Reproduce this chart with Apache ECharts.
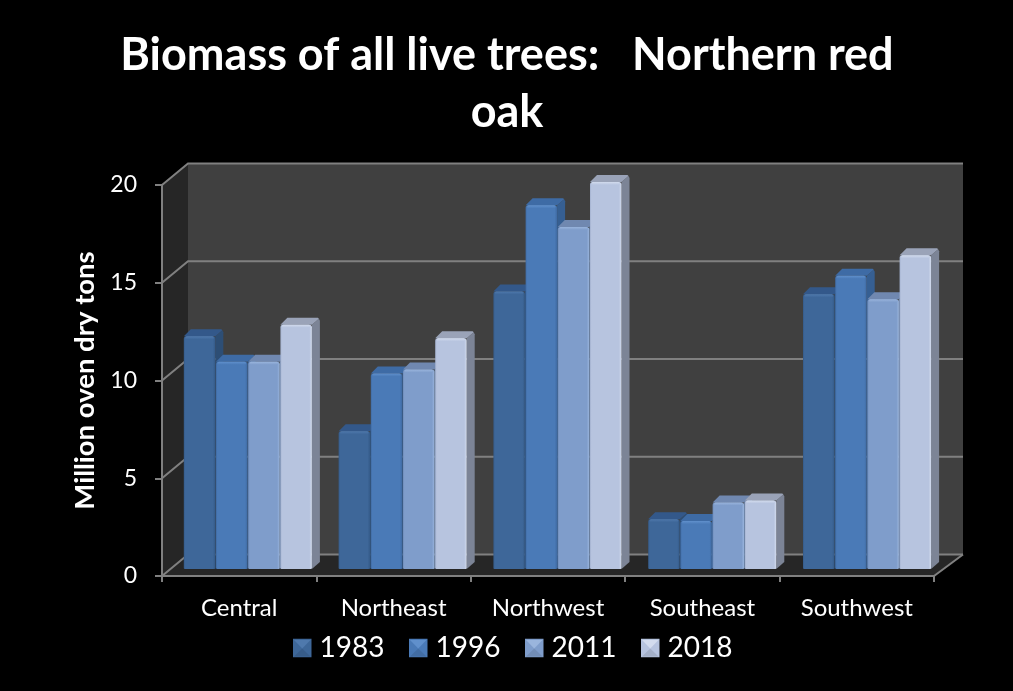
<!DOCTYPE html>
<html><head><meta charset="utf-8">
<style>html,body{margin:0;padding:0;background:#000}#c{width:1013px;height:691px}</style>
<script src="https://cdn.jsdelivr.net/npm/echarts@6/dist/echarts.min.js"></script>
</head><body><div id="c"></div>
<script>
const titleText = "Biomass of all live trees:   Northern red\noak";
const yAxisName = "Million oven dry tons";
const categories = ["Central","Northeast","Northwest","Southeast","Southwest"];
const seriesNames = ["1983","1996","2011","2018"];
const v1983 = [11.9, 7.05, 14.2, 2.55, 14.05];
const v1996 = [10.6, 10.0, 18.6, 2.45, 15.0];
const v2011 = [10.6, 10.2, 17.5, 3.4, 13.8];
const v2018 = [12.5, 11.8, 19.8, 3.5, 16.05];
const allValues = [v1983, v1996, v2011, v2018];
const frontColors = ['#3e6799','#4a7ab7','#7f9dcb','#b7c4df'];
const sideColors = ['#2d4e75','#365f92','#5f7aa0','#7c8496'];
const topColors = ['#33588a','#3e6ba5','#7088b0','#9aa3b8'];
const hiColors = ['#4f79ad','#6090cc','#9ab5dd','#d3dcee'];
const edgeColors = ['#345a88','#3f6aa2','#6f8cb9','#a3b1cf'];
const gridTicks = [0,5,10,15,20];
const FONT = 'Lato';
const LINE = '#808080';

const chart = echarts.init(document.getElementById('c'), null, {renderer:'canvas'});

function renderWalls(params, api){
  const cs = params.coordSys;
  const x = cs.x, w = cs.width, yb = cs.y + cs.height;
  const dxL = 26, dxR = 29, dy = 21.5;
  const poly = (pts, fill) => ({type:'polygon', shape:{points:pts}, style:{fill}, silent:true});
  const line = (pts) => ({type:'polyline', shape:{points:pts}, style:{fill:'none', stroke:LINE, lineWidth:2}, silent:true});
  const children = [
    poly([[x+dxL,cs.y-dy],[x+w+dxR,cs.y-dy],[x+w+dxR,yb-dy],[x+dxL,yb-dy]], '#404040'),
    poly([[x,cs.y],[x+dxL,cs.y-dy],[x+dxL,yb-dy],[x,yb]], '#262626'),
    poly([[x,yb],[x+w,yb],[x+w+dxR,yb-dy],[x+dxL,yb-dy]], '#262626')
  ];
  gridTicks.forEach(t => {
    const py = api.coord([0,t])[1];
    children.push(line([[x,py],[x+dxL,py-dy],[x+w+dxR,py-dy]]));
  });
  children.push(line([[x+w,yb],[x+w+dxR,yb-dy]]));
  return {type:'group', children};
}

function makeBar(s){
  return function(params, api){
    const cat = api.value(0), val = api.value(1);
    const top = api.coord([cat,val]), base = api.coord([cat,0]);
    const bw = 31.5, ddx = 8, ddy = 7, lift = 7;
    const x = top[0] + 9 + cat*0.4 + (s-2)*32.2;
    const yt = top[1]-lift, yb = base[1]-lift;
    const r = 1.5;
    return {type:'group', children:[
      {type:'polygon', shape:{points:[[x+bw,yt],[x+bw+ddx-1,yt-ddy+1],[x+bw+ddx,yt-ddy+3],[x+bw+ddx,yb-ddy],[x+bw,yb]]},
        style:{fill:sideColors[s]}},
      {type:'polygon', shape:{points:[[x,yt],[x+ddx-1,yt-ddy],[x+bw+ddx-2,yt-ddy],[x+bw+ddx-1,yt-ddy+1],[x+bw,yt]]},
        style:{fill:topColors[s]}},
      {type:'rect', shape:{x,y:yt,width:bw,height:yb-yt,r:[2.5,2.5,1,1]},
        style:{fill:{type:'linear',x:0,y:0,x2:1,y2:0,colorStops:[
          {offset:0,color:edgeColors[s]},{offset:0.05,color:frontColors[s]},
          {offset:0.92,color:frontColors[s]},{offset:1,color:s>1?hiColors[s]:edgeColors[s]}]}}},
      {type:'rect', shape:{x:x+r,y:yt,width:bw-2*r,height:3,r:1.5},
        style:{fill:{type:'linear',x:0,y:0,x2:0,y2:1,colorStops:[
          {offset:0,color:hiColors[s]},{offset:1,color:frontColors[s]}]}}}
    ]};
  };
}

const barSeries = seriesNames.map((name,s)=>({
  name, type:'custom', coordinateSystem:'cartesian2d',
  itemStyle:{color:frontColors[s]},
  encode:{x:0,y:1},
  data: allValues[s].map((v,i)=>[i,v]),
  renderItem: makeBar(s)
}));

// legend slots and swatch bevels
const swatchX = [293,409,525,641];
const swatchY = 639, swatchSize = 18.5;
const legends = seriesNames.map((n,i)=>({
  data:[n], left:swatchX[i], top:634, padding:0, icon:'rect', itemWidth:swatchSize, itemHeight:swatchSize,
  selectedMode:false,
  textStyle:{color:'#fff', fontFamily:FONT, fontSize:28, padding:[0,0,0,3]}
}));
const bevels = swatchX.flatMap((x,s)=>[
  {type:'polygon', z:100, silent:true, shape:{points:[[x+1,swatchY+swatchSize-1],[x+swatchSize-1,swatchY+swatchSize-1],[x+swatchSize/2,swatchY+swatchSize*0.52]]}, style:{fill:'rgba(0,0,0,0.1)'}},
  {type:'polygon', z:100, silent:true, shape:{points:[[x+1,swatchY+1],[x+swatchSize-1,swatchY+1],[x+swatchSize/2,swatchY+swatchSize*0.52]]}, style:{fill:hiColors[s]}}
]);

chart.setOption({
  backgroundColor:'#000',
  animation:false,
  textStyle:{fontFamily:FONT},
  title:{text:titleText, left:502, top:22, textAlign:'center',
    textStyle:{color:'#fff', fontFamily:FONT, fontWeight:'bold', fontSize:45, lineHeight:57}},
  legend:legends,
  grid:{left:162, right:79, top:185, bottom:115, containLabel:false},
  xAxis:{type:'category', data:categories, z:5,
    axisLine:{show:true, lineStyle:{color:LINE,width:2}},
    axisTick:{show:true, alignWithLabel:false, length:6, lineStyle:{color:LINE,width:2}},
    axisLabel:{color:'#fff', fontFamily:FONT, fontSize:24, margin:20},
    splitLine:{show:false}},
  yAxis:{type:'value', min:0, max:20, interval:5, z:5,
    name:yAxisName, nameLocation:'middle', nameGap:63, nameRotate:90,
    nameTextStyle:{color:'#fff', fontFamily:FONT, fontWeight:'bold', fontSize:27.5},
    axisLine:{show:true, lineStyle:{color:LINE,width:2}},
    axisTick:{show:true, length:7, lineStyle:{color:LINE,width:2}},
    axisLabel:{color:'#fff', fontFamily:FONT, fontSize:23, margin:25},
    splitLine:{show:false}},
  graphic: bevels,
  series:[{type:'custom', name:'walls', coordinateSystem:'cartesian2d', silent:true,
    encode:{x:0,y:1}, data:[[0,0]], renderItem:renderWalls}].concat(barSeries)
});
</script></body></html>
